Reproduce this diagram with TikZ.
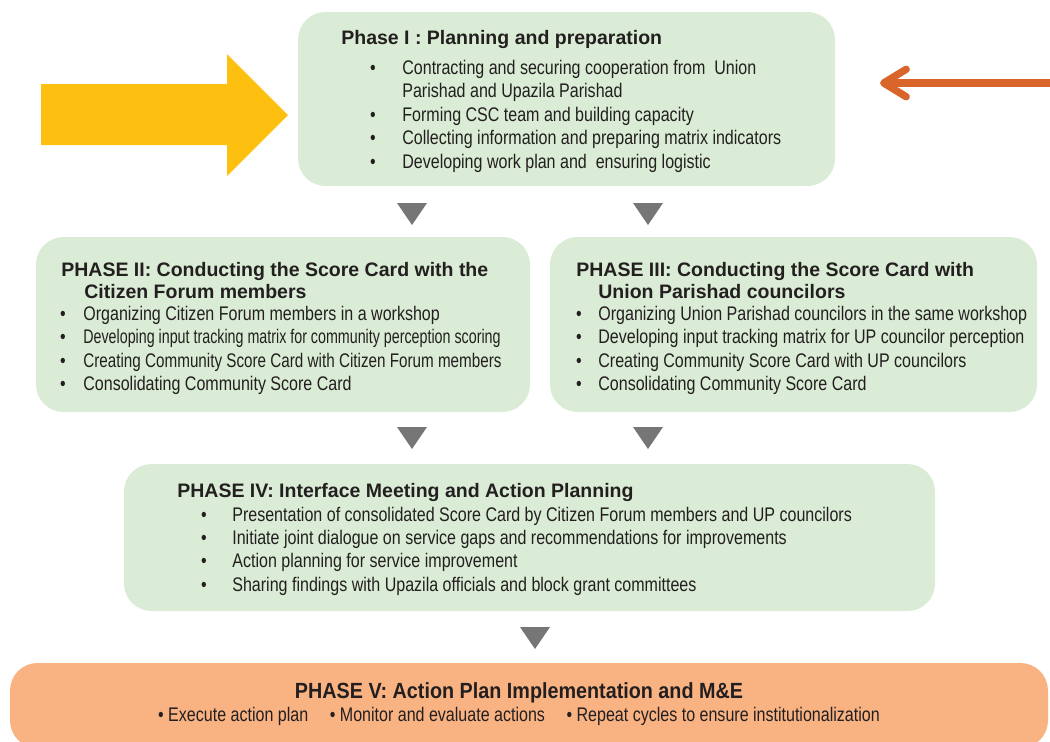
\documentclass[tikz,border=0pt]{standalone}
\usepackage{fontspec}
\setmainfont{Liberation Sans}
\newfontfamily\narrowsans[FakeStretch=0.815]{Liberation Sans}
\newfontfamily\midsans[FakeStretch=0.9]{Liberation Sans}
\usetikzlibrary{positioning,fit,arrows.meta}
\definecolor{phasegreen}{HTML}{DAECD5}
\definecolor{phaseorange}{HTML}{F9B383}
\definecolor{bigyellow}{HTML}{FDC010}
\definecolor{backorange}{HTML}{D9652B}
\definecolor{pointgray}{HTML}{767676}
\definecolor{inktext}{HTML}{231F20}
\def\downmark(#1,#2){\fill[pointgray] ({#1-15},#2) -- ({#1+15},#2) -- (#1,{#2+22}) -- cycle;}
\tikzset{
  phase/.style={fill=phasegreen, rounded corners=0.55cm, inner sep=0pt},
  head/.style={anchor=base west, inner sep=0pt, text=inktext, font=\bfseries\fontsize{11.1}{13}\selectfont},
  item/.style={anchor=base west, inner sep=0pt, text=inktext, font=\narrowsans\fontsize{11.2}{13}\selectfont},
  dot/.style={anchor=base, inner sep=0pt, text=inktext, font=\narrowsans\fontsize{11.2}{13}\selectfont},
}

\begin{document}
\begin{tikzpicture}[x=0.02cm, y=-0.02cm]
		%%%%% START %%%%%
		\useasboundingbox (0, 0) rectangle (1050, 741);

		% phase boxes
		\node[phase, fit={(298, 12) (835, 186)}] (p1) {};
		\node[phase, fit={(36, 237) (530, 412)}] (p2) {};
		\node[phase, fit={(550, 237) (1037, 412)}] (p3) {};
		\node[phase, fit={(124, 464) (935, 611)}] (p4) {};
		\node[phase, fill=phaseorange, fit={(10, 663) (1048, 748)}] (p5) {};

		% big arrow on the left
		\fill[bigyellow] (41, 84) -- (227, 84) -- (227, 54) -- (288, 115) -- (227, 176) -- (227, 145) -- (41, 145) -- cycle;

		% return arrow on the right
		\coordinate (back) at (1052, 83);
		\coordinate (backtip) at (880, 83);
		\draw[backorange, line width=4.2pt, -{Straight Barb[length=0.45cm, width=0.55cm, line cap=round, line join=round]}] (back) -- (backtip);

		% markers
		\downmark(412, 203)
		\downmark(648, 203)
		\downmark(412, 427)
		\downmark(648, 427)
		\downmark(535, 627)

		%%%%% PHASE I %%%%%
		\node[head] (t1) at (341, 44) {Phase I : Planning and preparation};
		\foreach \y in {74, 121, 144, 168} \node[dot] at (373, \y) {•};
		\node[item] (i11) at (402, 74) {Contracting and securing cooperation from\ \ Union};
		\node[item] (i12) at (402, 97) {Parishad and Upazila Parishad};
		\node[item] (i13) at (402, 121) {Forming CSC team and building capacity};
		\node[item] (i14) at (402, 144) {Collecting information and preparing matrix indicators};
		\node[item] (i15) at (402, 168) {Developing work plan and\ \ ensuring logistic};

		%%%%% PHASE II %%%%%
		\node[head] (t2) at (61, 276) {PHASE II: Conducting the Score Card with the};
		\node[head] (t2b) at (84, 298) {Citizen Forum members};
		\foreach \y in {320, 343, 367, 390} \node[dot] at (63, \y) {•};
		\node[item] (i21) at (83, 320) {Organizing Citizen Forum members in a workshop};
		\node[item] (i22) at (83, 343) {\scalebox{0.89}[1]{Developing input tracking matrix for community perception scoring}};
		\node[item] (i23) at (83, 367) {\scalebox{0.95}[1]{Creating Community Score Card with Citizen Forum members}};
		\node[item] (i24) at (83, 390) {Consolidating Community Score Card};

		%%%%% PHASE III %%%%%
		\node[head] (t3) at (576, 276) {PHASE III: Conducting the Score Card with};
		\node[head] (t3b) at (598, 298) {Union Parishad councilors};
		\foreach \y in {320, 343, 367, 390} \node[dot] at (579, \y) {•};
		\node[item] (i31) at (598, 320) {Organizing Union Parishad councilors in the same workshop};
		\node[item] (i32) at (598, 343) {Developing input tracking matrix for UP councilor perception};
		\node[item] (i33) at (598, 367) {Creating Community Score Card with UP councilors};
		\node[item] (i34) at (598, 390) {Consolidating Community Score Card};

		%%%%% PHASE IV %%%%%
		\node[head] (t4) at (177, 497) {PHASE IV: Interface Meeting and Action Planning};
		\foreach \y in {521, 544, 567, 591} \node[dot] at (204, \y) {•};
		\node[item] (i41) at (232, 521) {Presentation of consolidated Score Card by Citizen Forum members and UP councilors};
		\node[item] (i42) at (232, 544) {Initiate joint dialogue on service gaps and recommendations for improvements};
		\node[item] (i43) at (232, 567) {Action planning for service improvement};
		\node[item] (i44) at (232, 591) {Sharing findings with Upazila officials and block grant committees};

		%%%%% PHASE V %%%%%
		\node[head, anchor=base, font=\midsans\bfseries\fontsize{12.5}{14}\selectfont] (t5) at (519, 698) {PHASE V: Action Plan Implementation and M\&E};
		\node[item, anchor=base] (i51) at (519, 721) {• Execute action plan\hspace{1.1em}• Monitor and evaluate actions\hspace{1.1em}• Repeat cycles to ensure institutionalization};
		%%%%% END %%%%%
\end{tikzpicture}
\end{document}
